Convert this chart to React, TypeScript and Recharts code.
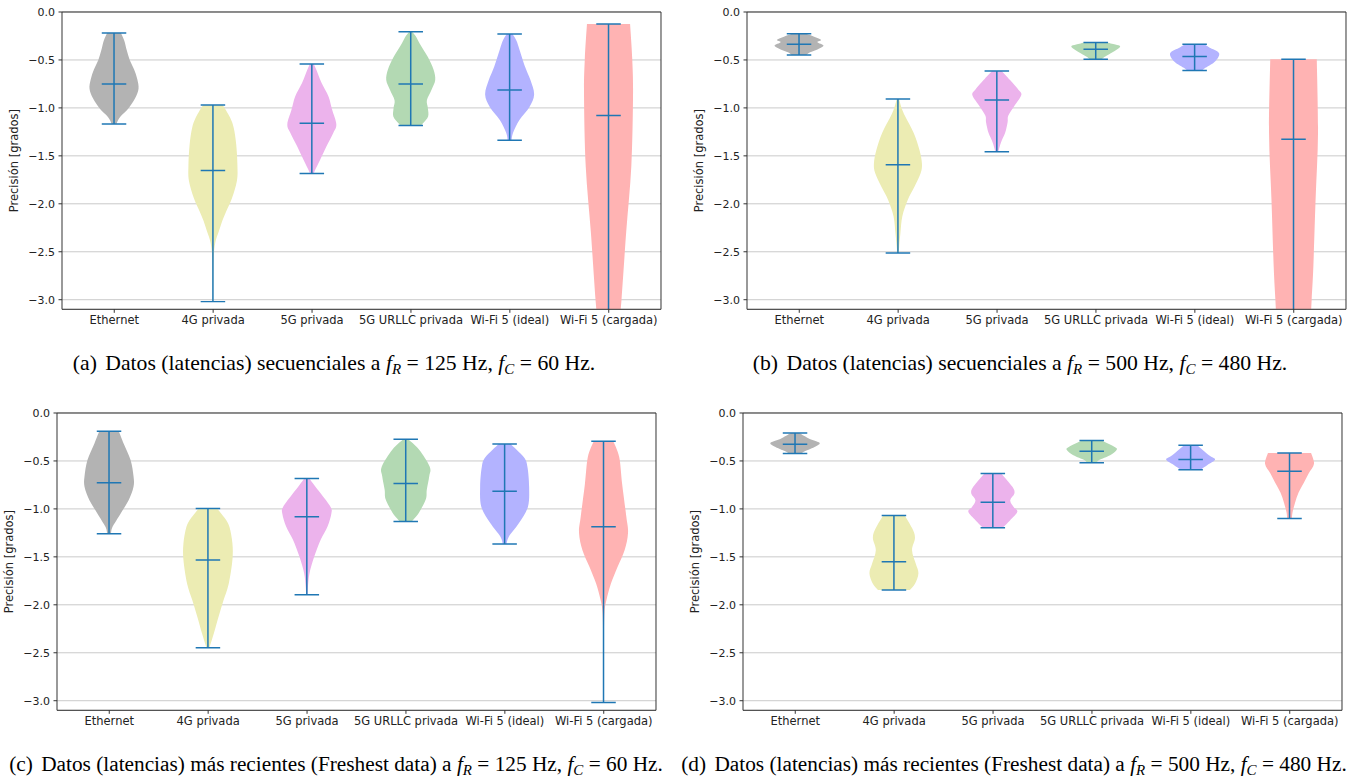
import React from "react";
import { BarChart, Bar, XAxis, YAxis, CartesianGrid } from "recharts";

// ---------- data ----------
const categories = ["Ethernet", "4G privada", "5G privada", "5G URLLC privada", "Wi-Fi 5 (ideal)", "Wi-Fi 5 (cargada)"];
const yTicks = [0, -0.5, -1, -1.5, -2, -2.5, -3];
const yDomain: [number, number] = [-3.1, 0];

// Panel (a)
const aMax = [-0.22, -0.97, -0.542, -0.205, -0.229, -0.125];
const aMin = [-1.167, -3.02, -1.684, -1.184, -1.337, -3.6];
const aMedian = [-0.75, -1.653, -1.16, -0.75, -0.8125, -1.08];
const aShapes = [
  [[-0.22, 0.28], [-0.3, 0.42], [-0.4, 0.52], [-0.5, 0.64], [-0.6, 0.82], [-0.7, 0.95], [-0.8, 1.0], [-0.9, 0.86], [-1.0, 0.6], [-1.07, 0.34], [-1.12, 0.18], [-1.167, 0.1]],
  [[-0.97, 0.4], [-1.1, 0.7], [-1.21, 0.85], [-1.38, 0.95], [-1.6, 1.0], [-1.76, 0.98], [-1.94, 0.78], [-2.08, 0.54], [-2.18, 0.38], [-2.29, 0.24], [-2.4, 0.1], [-2.55, 0.03], [-2.8, 0.015], [-3.02, 0.01]],
  [[-0.542, 0.08], [-0.6, 0.18], [-0.74, 0.4], [-0.88, 0.68], [-1.02, 0.83], [-1.17, 1.0], [-1.26, 0.88], [-1.4, 0.6], [-1.54, 0.34], [-1.65, 0.13], [-1.684, 0.08]],
  [[-0.205, 0.06], [-0.25, 0.2], [-0.33, 0.37], [-0.47, 0.7], [-0.6, 0.93], [-0.71, 1.0], [-0.81, 0.85], [-0.92, 0.66], [-1.0, 0.7], [-1.09, 0.71], [-1.16, 0.5], [-1.184, 0.42]],
  [[-0.229, 0.12], [-0.3, 0.28], [-0.39, 0.4], [-0.57, 0.63], [-0.71, 0.85], [-0.86, 1.0], [-0.99, 0.81], [-1.125, 0.4], [-1.26, 0.14], [-1.337, 0.08]],
  [[-0.125, 0.88], [-0.5, 0.97], [-0.88, 1.0], [-1.61, 0.93], [-2.3, 0.72], [-3.0, 0.53], [-3.3, 0.42], [-3.6, 0.35]],
];

// Panel (b)
const bMax = [-0.226, -0.906, -0.615, -0.319, -0.337, -0.493];
const bMin = [-0.448, -2.514, -1.458, -0.493, -0.611, -3.6];
const bMedian = [-0.337, -1.594, -0.917, -0.389, -0.465, -1.326];
const bShapes = [
  [[-0.226, 0.3], [-0.25, 0.55], [-0.29, 0.9], [-0.315, 0.75], [-0.35, 1.0], [-0.39, 0.75], [-0.42, 0.45], [-0.448, 0.3]],
  [[-0.906, 0.05], [-1.0, 0.15], [-1.09, 0.3], [-1.26, 0.64], [-1.44, 0.88], [-1.58, 0.98], [-1.68, 0.93], [-1.82, 0.68], [-1.96, 0.4], [-2.13, 0.18], [-2.31, 0.1], [-2.45, 0.05], [-2.514, 0.03]],
  [[-0.615, 0.2], [-0.71, 0.54], [-0.81, 0.88], [-0.865, 1.0], [-0.97, 0.74], [-1.08, 0.47], [-1.15, 0.44], [-1.26, 0.34], [-1.36, 0.17], [-1.458, 0.06]],
  [[-0.319, 0.45], [-0.34, 0.8], [-0.36, 1.0], [-0.4, 0.82], [-0.44, 0.55], [-0.47, 0.35], [-0.493, 0.25]],
  [[-0.337, 0.4], [-0.37, 0.6], [-0.43, 1.0], [-0.52, 0.82], [-0.59, 0.4], [-0.611, 0.3]],
  [[-0.493, 0.95], [-1.26, 1.0], [-1.96, 0.9], [-2.65, 0.81], [-3.0, 0.74], [-3.3, 0.68], [-3.6, 0.6]],
];

// Panel (c)
const cMax = [-0.19, -0.995, -0.683, -0.274, -0.323, -0.295];
const cMin = [-1.259, -2.449, -1.894, -1.131, -1.366, -3.018];
const cMedian = [-0.728, -1.533, -1.082, -0.735, -0.815, -1.186];
const cShapes = [
  [[-0.19, 0.4], [-0.32, 0.6], [-0.49, 0.88], [-0.66, 1.0], [-0.77, 1.0], [-0.91, 0.8], [-1.05, 0.47], [-1.19, 0.14], [-1.259, 0.08]],
  [[-0.995, 0.37], [-1.1, 0.7], [-1.19, 0.88], [-1.36, 1.0], [-1.53, 1.0], [-1.78, 0.85], [-1.95, 0.64], [-2.12, 0.44], [-2.3, 0.24], [-2.449, 0.06]],
  [[-0.683, 0.1], [-0.75, 0.3], [-0.84, 0.57], [-0.98, 0.97], [-1.05, 1.0], [-1.18, 0.85], [-1.32, 0.57], [-1.5, 0.3], [-1.67, 0.11], [-1.8, 0.05], [-1.894, 0.03]],
  [[-0.274, 0.1], [-0.38, 0.54], [-0.56, 0.98], [-0.66, 0.96], [-0.8, 0.86], [-0.9, 0.82], [-1.04, 0.54], [-1.1, 0.35], [-1.131, 0.25]],
  [[-0.323, 0.24], [-0.46, 0.78], [-0.56, 0.93], [-0.77, 1.0], [-0.98, 0.95], [-1.15, 0.58], [-1.29, 0.17], [-1.366, 0.08]],
  [[-0.295, 0.4], [-0.46, 0.64], [-0.74, 0.76], [-1.08, 0.93], [-1.25, 1.0], [-1.43, 0.86], [-1.6, 0.58], [-1.78, 0.3], [-1.95, 0.12], [-2.08, 0.04], [-2.4, 0.015], [-3.018, 0.01]],
];

// Panel (d)
const dMax = [-0.208, -1.068, -0.631, -0.288, -0.336, -0.416];
const dMin = [-0.423, -1.845, -1.197, -0.52, -0.593, -1.099];
const dMedian = [-0.326, -1.55, -0.93, -0.399, -0.485, -0.607];
const dShapes = [
  [[-0.208, 0.17], [-0.27, 0.6], [-0.31, 1.0], [-0.35, 0.84], [-0.4, 0.4], [-0.423, 0.25]],
  [[-1.068, 0.44], [-1.2, 0.74], [-1.3, 0.86], [-1.43, 0.74], [-1.57, 0.89], [-1.67, 1.0], [-1.78, 0.86], [-1.845, 0.65]],
  [[-0.631, 0.34], [-0.77, 0.8], [-0.84, 0.88], [-0.91, 0.71], [-0.98, 0.85], [-1.03, 1.0], [-1.12, 0.7], [-1.197, 0.4]],
  [[-0.288, 0.4], [-0.36, 0.97], [-0.39, 1.0], [-0.44, 0.75], [-0.49, 0.3], [-0.52, 0.2]],
  [[-0.336, 0.27], [-0.44, 0.75], [-0.485, 1.0], [-0.54, 0.7], [-0.593, 0.4]],
  [[-0.416, 0.88], [-0.53, 1.0], [-0.63, 0.78], [-0.73, 0.58], [-0.83, 0.37], [-0.94, 0.22], [-1.04, 0.12], [-1.099, 0.1]],
];

// Captions
const captionLabels = ["(a)", "(b)", "(c)", "(d)"];
const captionTexts = [
  "Datos (latencias) secuenciales a",
  "Datos (latencias) secuenciales a",
  "Datos (latencias) más recientes (Freshest data) a",
  "Datos (latencias) más recientes (Freshest data) a",
];
const captionFR = ["125", "500", "125", "500"];
const captionFC = ["60", "480", "60", "480"];

// ---------- styles / layout ----------
const violinColors = ["#b3b3b3", "#ececb3", "#ecb3ec", "#b3d9b3", "#b3b3ff", "#ffb3b3"];
const whiskerColor = "#1f77b4";
const PLOT_W = 599;
const PLOT_H = 297.3;
const Y_AXIS_W = 60;
const X_AXIS_H = 30;
const TOP_M = 12;
const RIGHT_M = 8;
const xTickFont = { fontSize: 11.5, fill: "#222", fontFamily: '"DejaVu Sans", sans-serif' };
const yTickFont = { fontSize: 11, fill: "#222", fontFamily: '"DejaVu Sans", sans-serif' };

const panelLayouts = [
  { left: 61.7, top: 12 },
  { left: 746.7, top: 12 },
  { left: 57.3, top: 412.7 },
  { left: 743.3, top: 412.7 },
];
const captionLayouts = [
  { cx: 334, top: 351, size: 21.7 },
  { cx: 1020, top: 351, size: 21.7 },
  { cx: 336, top: 752, size: 21.3 },
  { cx: 1014, top: 752, size: 21.3 },
];

type Row = { name: string; span: [number, number]; median: number; shape: number[][]; idx: number };

function buildData(mins: number[], maxs: number[], medians: number[], shapes: number[][][]): Row[] {
  return categories.map((name, i) => ({ name, span: [mins[i], maxs[i]], median: medians[i], shape: shapes[i], idx: i }));
}

const panelData = [
  buildData(aMin, aMax, aMedian, aShapes),
  buildData(bMin, bMax, bMedian, bShapes),
  buildData(cMin, cMax, cMedian, cShapes),
  buildData(dMin, dMax, dMedian, dShapes),
];

function curveThrough(pts: number[][]): string {
  let d = "";
  for (let i = 0; i < pts.length - 1; i++) {
    const p0 = pts[i - 1] || pts[i];
    const p1 = pts[i];
    const p2 = pts[i + 1];
    const p3 = pts[i + 2] || p2;
    const c1x = p1[0] + (p2[0] - p0[0]) / 6;
    const c1y = p1[1] + (p2[1] - p0[1]) / 6;
    const c2x = p2[0] - (p3[0] - p1[0]) / 6;
    const c2y = p2[1] - (p3[1] - p1[1]) / 6;
    d += ` C${c1x},${c1y} ${c2x},${c2y} ${p2[0]},${p2[1]}`;
  }
  return d;
}

function Violin(props: any) {
  const { x, y, width, height, index, rows } = props;
  const row: Row = props.payload && props.payload.shape ? props.payload : rows[index];
  if (!row || width == null || height == null) return null;
  const [lo, hi] = row.span;
  const toPx = (v: number) => y + ((hi - v) / (hi - lo)) * height;
  const cx = x + width / 2;
  const half = width / 2;
  const right = row.shape.map(([v, w]) => [cx + w * half, toPx(v)]);
  const left = row.shape.map(([v, w]) => [cx - w * half, toPx(v)]).reverse();
  const path = `M${right[0][0]},${right[0][1]}` + curveThrough(right) + ` L${left[0][0]},${left[0][1]}` + curveThrough(left) + " Z";
  const cap = width / 4;
  const yHi = toPx(hi);
  const yLo = toPx(lo);
  const yMed = toPx(row.median);
  return (
    <g>
      <path d={path} fill={violinColors[row.idx]} stroke="none" />
      <line x1={cx} x2={cx} y1={yHi} y2={yLo} stroke={whiskerColor} strokeWidth={1.5} />
      <line x1={cx - cap} x2={cx + cap} y1={yHi} y2={yHi} stroke={whiskerColor} strokeWidth={1.5} />
      <line x1={cx - cap} x2={cx + cap} y1={yLo} y2={yLo} stroke={whiskerColor} strokeWidth={1.5} />
      <line x1={cx - cap} x2={cx + cap} y1={yMed} y2={yMed} stroke={whiskerColor} strokeWidth={1.5} />
    </g>
  );
}

const fmtY = (v: number) => (v === 0 ? "0.0" : "\u2212" + Math.abs(v).toFixed(1));

function ViolinPanel({ rows, left, top }: { rows: Row[]; left: number; top: number }) {
  return (
    <div style={{ position: "absolute", left: left - Y_AXIS_W, top: top - TOP_M }}>
      <BarChart
        width={Y_AXIS_W + PLOT_W + RIGHT_M}
        height={TOP_M + PLOT_H + X_AXIS_H}
        data={rows}
        margin={{ top: TOP_M - 1, right: RIGHT_M - 1, bottom: 0, left: 0 }}
        barCategoryGap="25%"
      >
        <CartesianGrid vertical={false} stroke="#c4c4c4" strokeWidth={0.9} />
        <XAxis
          dataKey="name"
          type="category"
          interval={0}
          height={X_AXIS_H}
          padding={{ left: 2.8, right: 2.8 }}
          tick={xTickFont}
          tickSize={3.5}
          tickMargin={3.5}
          axisLine={{ stroke: "#333" }}
          tickLine={{ stroke: "#333" }}
        />
        <XAxis
          xAxisId="top"
          dataKey="name"
          orientation="top"
          height={1}
          tick={false}
          tickLine={false}
          axisLine={{ stroke: "#333" }}
        />
        <YAxis
          type="number"
          domain={yDomain}
          ticks={yTicks}
          interval={0}
          allowDataOverflow
          width={Y_AXIS_W}
          tick={yTickFont}
          tickFormatter={fmtY}
          tickSize={3.5}
          tickMargin={3.5}
          axisLine={{ stroke: "#333" }}
          tickLine={{ stroke: "#333" }}
          label={{
            value: "Precisión [grados]",
            angle: -90,
            position: "insideLeft",
            offset: 12,
            style: { textAnchor: "middle", fontSize: 11.5, fill: "#222", fontFamily: '"DejaVu Sans", sans-serif' },
          }}
        />
        <YAxis
          yAxisId="right"
          orientation="right"
          type="number"
          domain={yDomain}
          allowDataOverflow
          width={1}
          tick={false}
          tickLine={false}
          axisLine={{ stroke: "#333" }}
        />
        <Bar dataKey="span" isAnimationActive={false} shape={(p: any) => <Violin {...p} rows={rows} />} />
      </BarChart>
    </div>
  );
}

function Caption({ i }: { i: number }) {
  const { cx, top, size } = captionLayouts[i];
  const subStyle: React.CSSProperties = { fontSize: 15, verticalAlign: "-4px", lineHeight: 0, fontStyle: "italic" };
  return (
    <div
      style={{
        position: "absolute",
        left: cx - 450,
        top,
        width: 900,
        textAlign: "center",
        fontFamily: '"Liberation Serif", "Times New Roman", serif',
        fontSize: size,
        lineHeight: "24px",
        whiteSpace: "pre",
        color: "#000",
      }}
    >
      <span style={{ marginRight: 3 }}>{captionLabels[i]}</span> {captionTexts[i]} <i>f</i>
      <sub style={subStyle}>R</sub> = {captionFR[i]} Hz, <i>f</i>
      <sub style={subStyle}>C</sub> = {captionFC[i]} Hz.
    </div>
  );
}

export default function App() {
  return (
    <div style={{ position: "absolute", left: 0, top: 0, width: 1355, height: 778, overflow: "hidden", background: "#fff" }}>
      {panelData.map((rows, i) => (
        <ViolinPanel key={i} rows={rows} left={panelLayouts[i].left} top={panelLayouts[i].top} />
      ))}
      {captionLabels.map((_, i) => (
        <Caption key={i} i={i} />
      ))}
    </div>
  );
}
